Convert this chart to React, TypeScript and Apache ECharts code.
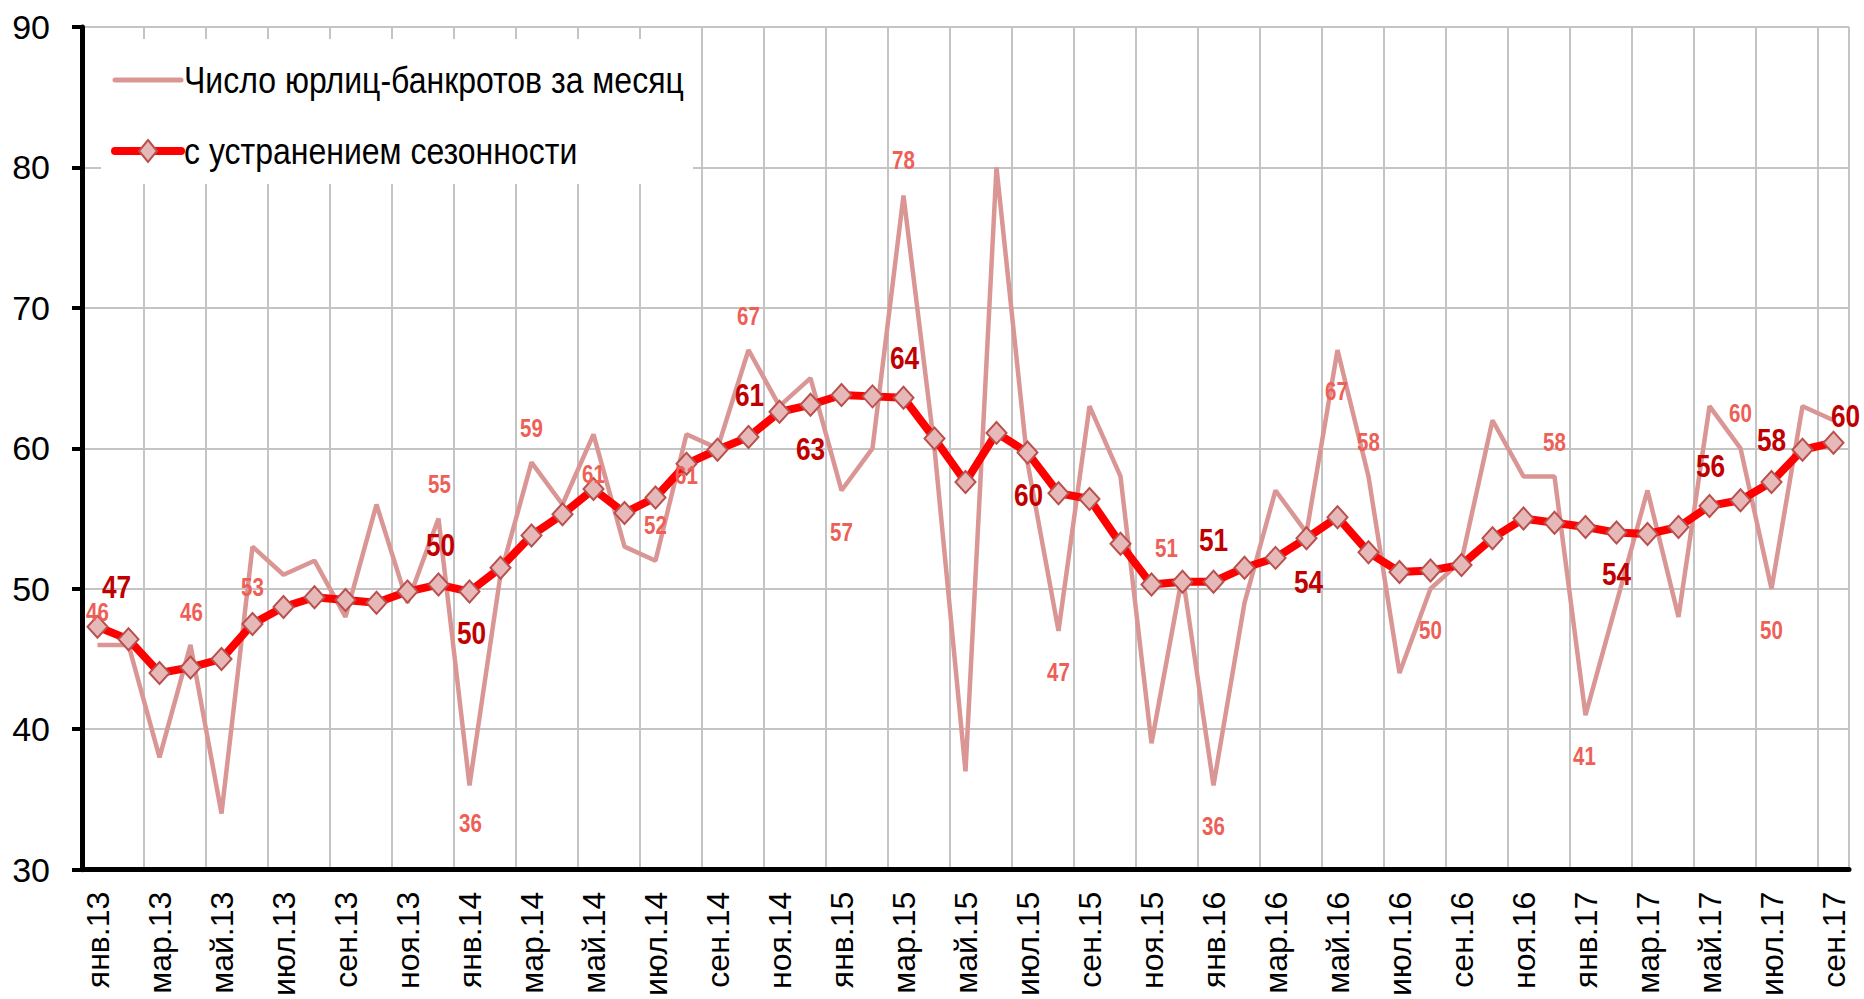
import React, { useEffect, useRef } from 'react';
import * as echarts from 'echarts';

const categories: string[] = [
  'янв.13', 'фев.13', 'мар.13', 'апр.13', 'май.13', 'июн.13', 'июл.13', 'авг.13', 'сен.13', 'окт.13', 'ноя.13', 'дек.13',
  'янв.14', 'фев.14', 'мар.14', 'апр.14', 'май.14', 'июн.14', 'июл.14', 'авг.14', 'сен.14', 'окт.14', 'ноя.14', 'дек.14',
  'янв.15', 'фев.15', 'мар.15', 'апр.15', 'май.15', 'июн.15', 'июл.15', 'авг.15', 'сен.15', 'окт.15', 'ноя.15', 'дек.15',
  'янв.16', 'фев.16', 'мар.16', 'апр.16', 'май.16', 'июн.16', 'июл.16', 'авг.16', 'сен.16', 'окт.16', 'ноя.16', 'дек.16',
  'янв.17', 'фев.17', 'мар.17', 'апр.17', 'май.17', 'июн.17', 'июл.17', 'авг.17', 'сен.17',
];

// Число юрлиц-банкротов за месяц
const rawValues: number[] = [
  46, 46, 38, 46, 34, 53, 51, 52, 48, 56, 49, 55,
  36, 51, 59, 56, 61, 53, 52, 61, 60, 67, 63, 65,
  57, 60, 78, 60, 37, 80, 59, 47, 63, 58, 39, 51,
  36, 49, 57, 54, 67, 58, 44, 50, 52, 62, 58, 58,
  41, 49, 57, 48, 63, 60, 50, 63, 62,
];

// с устранением сезонности
const adjValues: number[] = [
  47.3, 46.4, 44.0, 44.4, 45.0, 47.5, 48.7, 49.4, 49.2, 49.0, 49.8, 50.3,
  49.8, 51.5, 53.8, 55.3, 57.1, 55.4, 56.5, 58.9, 59.9, 60.8, 62.6, 63.1,
  63.8, 63.7, 63.6, 60.7, 57.6, 61.1, 59.7, 56.8, 56.4, 53.2, 50.3, 50.5,
  50.5, 51.5, 52.2, 53.6, 55.1, 52.6, 51.2, 51.3, 51.7, 53.6, 55.0, 54.7,
  54.4, 54.0, 53.9, 54.4, 55.9, 56.3, 57.6, 59.9, 60.4,
];

const yTicks: number[] = [30, 40, 50, 60, 70, 80, 90];

const seriesNames: string[] = ['Число юрлиц-банкротов за месяц', 'с устранением сезонности'];

// indices of labelled points
const rawLabelIdx: number[] = [0, 3, 5, 11, 12, 14, 16, 18, 19, 21, 24, 26, 31, 35, 36, 40, 41, 43, 47, 48, 53, 54];
const adjLabelIdx: number[] = [0, 11, 12, 21, 23, 26, 30, 36, 39, 49, 52, 54, 56];

// label offsets (px) relative to the point
const rawLabelOffsets: number[][] = [
  [0, -33], [1, -33], [0, 41], [1, -34], [1, 38], [0, -34], [0, 40], [0, -35], [0, 41], [0, -34], [0, 42],
  [0, -35], [0, 41], [-16, -26], [0, 41], [-1, 41], [0, -34], [0, 41], [0, -34], [-1, 41], [0, -35], [0, 41],
];
const adjLabelOffsets: number[][] = [
  [19, -40], [2, -40], [2, 41], [1, -42], [0, 44], [1, -40], [1, 43], [0, -42], [2, 44], [0, 41], [1, -40], [0, -42], [12, -27],
];

const FONT = "'Liberation Sans', Arial, sans-serif";
const NARROW_SCALE = 0.82;

function measure(text: string, font: string): number {
  try {
    const c = document.createElement('canvas').getContext('2d');
    if (!c) return 0;
    c.font = font;
    return c.measureText(text).width;
  } catch (e) {
    return 0;
  }
}

export default function App() {
  const ref = useRef<HTMLDivElement>(null);

  useEffect(() => {
    if (!ref.current) return;
    const chart = echarts.init(ref.current, undefined, { renderer: 'svg' });

    chart.setOption({
      animation: false,
      backgroundColor: '#ffffff',
      grid: { left: 82, right: 15, top: 27, bottom: 128, containLabel: false },
      xAxis: {
        type: 'category',
        data: categories,
        boundaryGap: true,
        axisLine: { lineStyle: { color: '#000', width: 5 } },
        axisTick: { interval: 1, length: 11, lineStyle: { color: '#000', width: 4 } },
        axisLabel: { interval: 1, rotate: 90, fontFamily: FONT, fontSize: 32, color: '#000', margin: 22 },
        splitLine: { show: true, interval: 1, lineStyle: { color: '#c4c4c4', width: 2 } },
      },
      yAxis: {
        type: 'value',
        min: yTicks[0],
        max: yTicks[yTicks.length - 1],
        interval: 10,
        axisLine: { show: true, lineStyle: { color: '#000', width: 5 } },
        axisTick: { show: true, length: 10, lineStyle: { color: '#000', width: 4 } },
        axisLabel: { fontFamily: FONT, fontSize: 34, color: '#000', margin: 32 },
        splitLine: { show: true, lineStyle: { color: '#c4c4c4', width: 2 } },
      },
      series: [
        {
          name: seriesNames[0],
          type: 'line',
          data: rawValues,
          symbol: 'none',
          lineStyle: { color: '#d99694', width: 4.5 },
          itemStyle: { color: '#d99694' },
          z: 2,
        },
        {
          name: seriesNames[1],
          type: 'line',
          data: adjValues,
          symbol: 'diamond',
          showSymbol: true,
          showAllSymbol: true,
          symbolSize: [20, 22],
          lineStyle: { color: '#ff0000', width: 8 },
          itemStyle: { color: '#e6b9b8', borderColor: '#b9504d', borderWidth: 2 },
          z: 3,
        },
      ],
    });

    const toPx = (i: number, v: number) =>
      chart.convertToPixel({ xAxisIndex: 0, yAxisIndex: 0 }, [i, v]) as number[];

    const graphics: any[] = [];

    // data labels, positioned through the chart's scales
    rawLabelIdx.forEach((i, k) => {
      const p = toPx(i, rawValues[i]);
      const o = rawLabelOffsets[k];
      graphics.push({
        type: 'text',
        x: p[0] + o[0],
        y: p[1] + o[1],
        scaleX: NARROW_SCALE,
        z: 50,
        silent: true,
        style: {
          text: String(Math.round(rawValues[i])),
          font: `bold 25px ${FONT}`,
          fill: '#ee5f57',
          align: 'center',
          verticalAlign: 'middle',
        },
      });
    });
    adjLabelIdx.forEach((i, k) => {
      const p = toPx(i, adjValues[i]);
      const o = adjLabelOffsets[k];
      graphics.push({
        type: 'text',
        x: p[0] + o[0],
        y: p[1] + o[1],
        scaleX: NARROW_SCALE,
        z: 51,
        silent: true,
        style: {
          text: String(Math.round(adjValues[i])),
          font: `bold 32px ${FONT}`,
          fill: '#c00000',
          align: 'center',
          verticalAlign: 'middle',
        },
      });
    });

    // legend (drawn as graphics so that the narrow font can be imitated)
    const legendFont = `37px ${FONT}`;
    const w1 = measure(seriesNames[0], legendFont);
    const legendScale = w1 > 0 ? Math.min(0.95, Math.max(0.7, 500 / w1)) : 0.86;
    graphics.push({
      type: 'rect',
      z: 40,
      silent: true,
      shape: { x: 101, y: 39, width: 592, height: 145 },
      style: { fill: '#ffffff' },
    });
    graphics.push({
      type: 'line',
      z: 41,
      silent: true,
      shape: { x1: 115, y1: 80, x2: 181, y2: 80 },
      style: { stroke: '#d99694', lineWidth: 5, lineCap: 'round' },
    });
    graphics.push({
      type: 'line',
      z: 41,
      silent: true,
      shape: { x1: 115, y1: 151, x2: 181, y2: 151 },
      style: { stroke: '#ff0000', lineWidth: 8, lineCap: 'round' },
    });
    graphics.push({
      type: 'polygon',
      z: 42,
      silent: true,
      shape: { points: [[148, 140], [157, 151], [148, 162], [139, 151]] },
      style: { fill: '#e6b9b8', stroke: '#b9504d', lineWidth: 2 },
    });
    seriesNames.forEach((name, k) => {
      graphics.push({
        type: 'text',
        x: 184,
        y: k === 0 ? 80 : 151,
        scaleX: legendScale,
        z: 43,
        silent: true,
        style: {
          text: name,
          font: legendFont,
          fill: '#000000',
          align: 'left',
          verticalAlign: 'middle',
        },
      });
    });

    chart.setOption({ graphic: graphics });

    return () => chart.dispose();
  }, []);

  return (
    <div
      ref={ref}
      style={{ position: 'absolute', left: 0, top: 0, width: 1864, height: 999 }}
    />
  );
}
